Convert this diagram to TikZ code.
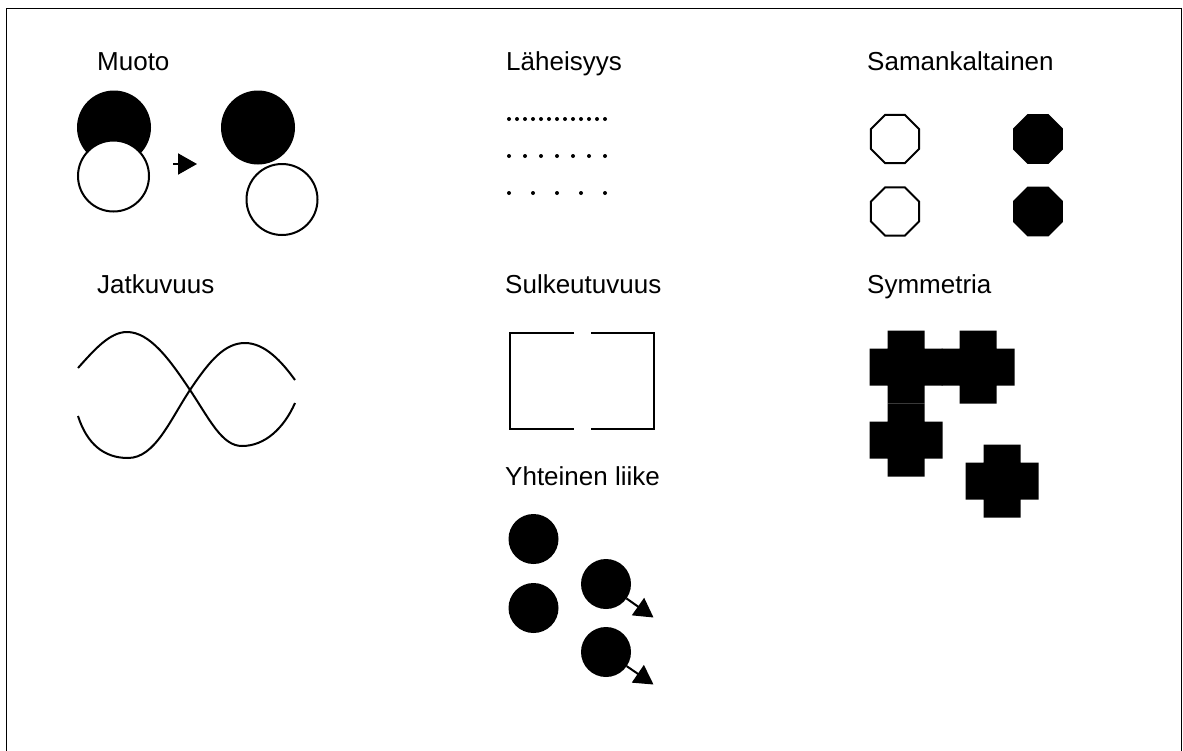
\documentclass[tikz,border=0pt]{standalone}
\usepackage{fontspec}
\setmainfont{Liberation Sans}
\usetikzlibrary{arrows.meta}
\begin{document}
\begin{tikzpicture}[x=1pt,y=-1pt,
  lbl/.style={anchor=base west, inner sep=0pt, font=\fontsize{26}{30}\selectfont},
  thin line/.style={line width=2pt},
  blackdisc/.style={fill=black},
  whitedisc/.style={fill=white, draw=black, line width=2pt},
  movedot/.style={circle, fill=black, minimum size=50pt, inner sep=0pt, outer sep=0pt},
  tri/.style={-{Triangle[length=19pt,width=21pt]}, line width=2pt},
  octo/.pic={\path[pic actions] (22.5:#1) -- (67.5:#1) -- (112.5:#1) -- (157.5:#1) -- (202.5:#1) -- (247.5:#1) -- (292.5:#1) -- (337.5:#1) -- cycle;},
  plusshape/.pic={\fill (-18.5,-36.5) -- (18.5,-36.5) -- (18.5,-18.5) -- (36.5,-18.5) -- (36.5,18.5) -- (18.5,18.5) -- (18.5,36.5) -- (-18.5,36.5) -- (-18.5,18.5) -- (-36.5,18.5) -- (-36.5,-18.5) -- (-18.5,-18.5) -- cycle;}
]
\useasboundingbox (0,0) rectangle (1183,750);
\fill[white] (0,0) rectangle (1183,750);
% frame
\draw[line width=1.6pt] (6.5,760) -- (6.5,8.5) -- (1181.5,8.5) -- (1181.5,760);

% labels
\node[lbl] (lmuoto) at (97,70) {Muoto};
\node[lbl] (llah) at (506,70) {Läheisyys};
\node[lbl] (lsam) at (867,70) {Samankaltainen};
\node[lbl] (ljat) at (97,293) {Jatkuvuus};
\node[lbl] (lsul) at (505,293) {Sulkeutuvuus};
\node[lbl] (lsym) at (867,293) {Symmetria};
\node[lbl] (lyht) at (505,485) {Yhteinen liike};

% Muoto
\fill[blackdisc] (114,127.5) circle (37);
\draw[whitedisc] (113.5,176) circle (35.5);
\fill[blackdisc] (258,127.5) circle (37);
\draw[whitedisc] (282,199.5) circle (35.5);
\coordinate (ma) at (173,164);
\coordinate (mb) at (197,164);
\draw[tri] (ma) -- (mb);

% Laheisyys
\foreach \i in {0,...,12} \fill (509+8*\i,119) circle (2);
\foreach \i in {0,...,6} \fill (509+16*\i,156) circle (2);
\foreach \i in {0,...,4} \fill (509+24*\i,193) circle (2);

% Samankaltainen
\pic[draw=black, line width=2pt, fill=white] at (895,139) {octo=26};
\pic[draw=black, line width=2pt, fill=white] at (895,211.5) {octo=26};
\pic[fill=black] at (1038,139) {octo=27};
\pic[fill=black] at (1038,211.5) {octo=27};

% Jatkuvuus
\draw[thin line] (78,368) .. controls (95,349) and (110,332) .. (127,332)
  .. controls (150,332) and (170,360) .. (190,390)
  .. controls (210,420) and (222,446) .. (242,446)
  .. controls (265,446) and (284,428) .. (295,403);
\draw[thin line] (78,416) .. controls (87,444) and (104,458) .. (128,458)
  .. controls (155,458) and (170,420) .. (190,390)
  .. controls (210,360) and (225,343) .. (245,343)
  .. controls (265,343) and (282,362) .. (295,380);

% Sulkeutuvuus
\draw[thin line] (574,333) -- (510,333) -- (510,429) -- (574,429);
\draw[thin line] (591,333) -- (654,333) -- (654,429) -- (591,429);

% Symmetria
\pic at (906,367) {plusshape};
\pic at (978,367) {plusshape};
\pic at (906,440) {plusshape};
\pic at (1002,481) {plusshape};

% Yhteinen liike
\node[movedot] (y1) at (533.5,539) {};
\node[movedot] (y2) at (533.5,608) {};
\node[movedot] (y3) at (606,584) {};
\node[movedot] (y4) at (606,652) {};
\coordinate (t3) at (653.5,617.5);
\coordinate (t4) at (653.5,684.5);
\draw[tri] (y3) -- (t3);
\draw[tri] (y4) -- (t4);
\end{tikzpicture}
\end{document}
